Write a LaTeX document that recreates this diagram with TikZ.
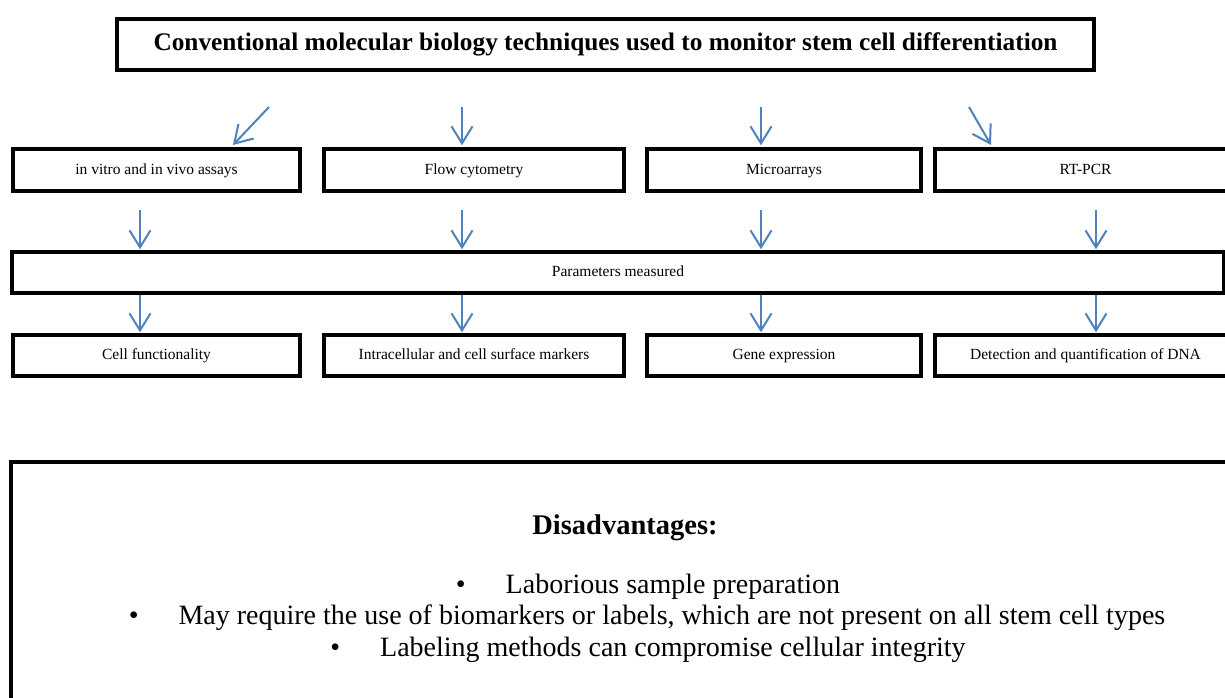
\documentclass[tikz,border=0pt]{standalone}
\usepackage{fontspec}
\setmainfont{Liberation Serif}
\usetikzlibrary{arrows.meta}
\definecolor{arrowblue}{RGB}{79,129,189}
\tikzset{
  box/.style={draw, rectangle, line width=3.5pt, inner sep=0pt, minimum height=42pt, text height=11pt, text depth=3pt, font=\fontsize{15.5}{18}\selectfont},
  flow/.style={->, draw=arrowblue, line width=2pt},
  bullettext/.style={font=\fontsize{28}{32}\selectfont},
}
\begin{document}
\begin{tikzpicture}[x=1pt, y=-1pt, >={Straight Barb[length=17pt,width=21pt]}]
    \useasboundingbox (0,0) rectangle (1225,697);
    \clip (0,0) rectangle (1225,697);
    %title
    \node[box, minimum width=977pt, minimum height=51pt, text height=18pt, text depth=6pt, font=\fontsize{25.3}{28}\selectfont\bfseries] (title) at (605.5,44.5) {Conventional molecular biology techniques used to monitor stem cell differentiation};
    %techniques
    \node[box, minimum width=287pt] (tech1) at (156.5,170) {in vitro and in vivo assays};
    \node[box, minimum width=300pt] (tech2) at (474,170) {Flow cytometry};
    \node[box, minimum width=274pt] (tech3) at (784,170) {Microarrays};
    \node[box, minimum width=301pt] (tech4) at (1085.5,170) {RT-PCR};
    %parameters measured
    \node[box, minimum width=1212pt, minimum height=41pt] (par) at (618,272.5) {Parameters measured};
    %results
    \node[box, minimum width=287pt, minimum height=41pt] (res1) at (156.5,355.5) {Cell functionality};
    \node[box, minimum width=300pt, minimum height=41pt] (res2) at (474,355.5) {Intracellular and cell surface markers};
    \node[box, minimum width=274pt, minimum height=41pt] (res3) at (784,355.5) {Gene expression};
    \node[box, minimum width=301pt, minimum height=41pt] (res4) at (1085.5,355.5) {Detection and quantification of DNA};
    %disadvantages
    \node[box, minimum width=1228pt, minimum height=280pt] (dis) at (625,602) {};
    \node[font=\fontsize{28.5}{32}\selectfont\bfseries] (distitle) at (625,528) {Disadvantages:};
    \node[bullettext] (dis1) at (648,587) {\textbullet\hspace{40pt}Laborious sample preparation};
    \node[bullettext] (dis2) at (647,618) {\textbullet\hspace{40pt}May require the use of biomarkers or labels, which are not present on all stem cell types};
    \node[bullettext] (dis3) at (648,650) {\textbullet\hspace{40pt}Labeling methods can compromise cellular integrity};
    %arrows
    \coordinate (c1) at (140,0);
    \coordinate (c2) at (462,0);
    \coordinate (c3) at (761,0);
    \coordinate (c4) at (1096,0);
    \coordinate (d1) at (269,107);
    \coordinate (e1) at (233,145);
    \coordinate (d4) at (969,107);
    \coordinate (e4) at (991,145);
    \draw[flow] (d1) -- (e1);
    \draw[flow, shorten <=35pt, shorten >=2pt] (c2 |- title.south) -- (c2 |- tech2.north);
    \draw[flow, shorten <=35pt, shorten >=2pt] (c3 |- title.south) -- (c3 |- tech3.north);
    \draw[flow] (d4) -- (e4);
    \draw[flow, shorten <=17pt, shorten >=1pt] (c1 |- tech1.south) -- (c1 |- par.north);
    \draw[flow, shorten <=17pt, shorten >=1pt] (c2 |- tech2.south) -- (c2 |- par.north);
    \draw[flow, shorten <=17pt, shorten >=1pt] (c3 |- tech3.south) -- (c3 |- par.north);
    \draw[flow, shorten <=17pt, shorten >=1pt] (c4 |- tech4.south) -- (c4 |- par.north);
    \draw[flow, shorten >=1pt] (c1 |- par.south) -- (c1 |- res1.north);
    \draw[flow, shorten >=1pt] (c2 |- par.south) -- (c2 |- res2.north);
    \draw[flow, shorten >=1pt] (c3 |- par.south) -- (c3 |- res3.north);
    \draw[flow, shorten >=1pt] (c4 |- par.south) -- (c4 |- res4.north);
\end{tikzpicture}
\end{document}
